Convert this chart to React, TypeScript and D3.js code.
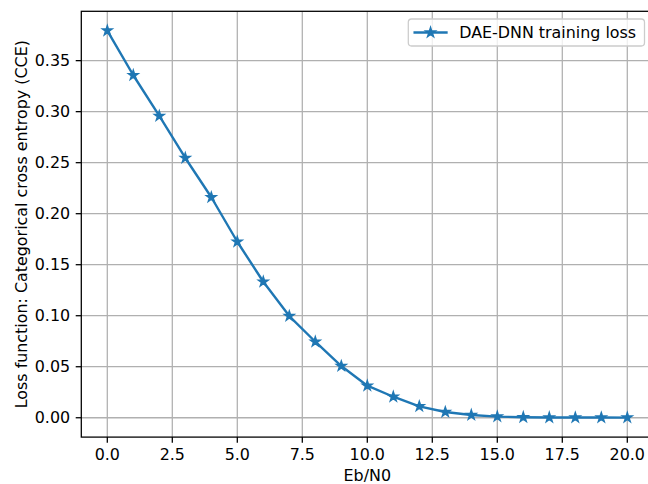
import React from "react";
import * as d3 from "d3";

const ebN0 = [0, 1, 2, 3, 4, 5, 6, 7, 8, 9, 10, 11, 12, 13, 14, 15, 16, 17, 18, 19, 20];
const trainingLoss = [
  0.3794, 0.3357, 0.2958, 0.2546, 0.2161, 0.1725, 0.1333, 0.0997, 0.0745, 0.0507,
  0.0314, 0.0206, 0.0112, 0.0056, 0.0027, 0.0011, 0.0005, 0.0003, 0.0002, 0.0002, 0.0001,
];
const xTicks = [0, 2.5, 5, 7.5, 10, 12.5, 15, 17.5, 20];
const yTicks = [0, 0.05, 0.1, 0.15, 0.2, 0.25, 0.3, 0.35];
const seriesLabel = "DAE-DNN training loss";
const xLabel = "Eb/N0";
const yLabel = "Loss function: Categorical cross entropy (CCE)";

const W = 648;
const H = 484;
const left = 81.3;
const right = 653.3;
const top = 11.3;
const bottom = 437.1;
const color = "#1f77b4";
const font = "'DejaVu Sans', sans-serif";
const fs = 15.9;
const pt = 1.597;

export default function App() {
  const x = d3.scaleLinear().domain([-1, 21]).range([left, right]);
  const yMax = d3.max(trainingLoss)!;
  const pad = yMax * 0.05;
  const y = d3.scaleLinear().domain([-pad, yMax + pad]).range([bottom, top]);
  const line = d3
    .line<number>()
    .x((_, i) => x(ebN0[i]))
    .y((d) => y(d));
  const star = d3.symbol(d3.symbolStar, 25.9)()!;
  const tick = 3.5 * pt;
  const lw = 1.5 * pt;
  const thin = 0.8 * pt;

  // legend
  const legLeft = 408.3;
  const legRight = 644.5;
  const legTop = 19;
  const legBottom = 46;
  const legY = (legTop + legBottom) / 2;
  const handleX0 = legLeft + 0.4 * fs;
  const handleX1 = handleX0 + 2 * fs;

  return (
    <svg
      width={W}
      height={H}
      style={{ position: "absolute", left: 0, top: 0, background: "#fff", fontFamily: font }}
    >
      <rect x={0} y={0} width={W} height={H} fill="#fff" />
      {/* grid */}
      {xTicks.map((t) => (
        <line key={"gx" + t} x1={x(t)} x2={x(t)} y1={top} y2={bottom} stroke="#b0b0b0" strokeWidth={thin} />
      ))}
      {yTicks.map((t) => (
        <line key={"gy" + t} x1={left} x2={right} y1={y(t)} y2={y(t)} stroke="#b0b0b0" strokeWidth={thin} />
      ))}
      {/* series */}
      <path d={line(trainingLoss)!} fill="none" stroke={color} strokeWidth={lw} strokeLinejoin="round" strokeLinecap="square" />
      {trainingLoss.map((v, i) => (
        <path
          key={"m" + i}
          d={star}
          transform={`translate(${x(ebN0[i])},${y(v)})`}
          fill={color}
          stroke={color}
          strokeWidth={pt}
        />
      ))}
      {/* spines */}
      <rect x={left} y={top} width={right - left} height={bottom - top} fill="none" stroke="#000" strokeWidth={thin} />
      {/* x ticks */}
      {xTicks.map((t) => (
        <g key={"xt" + t}>
          <line x1={x(t)} x2={x(t)} y1={bottom} y2={bottom + tick} stroke="#000" strokeWidth={thin} />
          <text x={x(t)} y={bottom + 2 * tick + 11.8} textAnchor="middle" fontSize={fs} fill="#000">
            {d3.format(".1f")(t)}
          </text>
        </g>
      ))}
      {/* y ticks */}
      {yTicks.map((t) => (
        <g key={"yt" + t}>
          <line x1={left - tick} x2={left} y1={y(t)} y2={y(t)} stroke="#000" strokeWidth={thin} />
          <text x={left - 2 * tick} y={y(t)} dy="0.36em" textAnchor="end" fontSize={fs} fill="#000">
            {d3.format(".2f")(t)}
          </text>
        </g>
      ))}
      {/* axis labels */}
      <text x={(left + right) / 2} y={480.5} textAnchor="middle" fontSize={fs} fill="#000">
        {xLabel}
      </text>
      <text
        transform={`translate(27.2,${(top + bottom) / 2}) rotate(-90)`}
        textAnchor="middle"
        fontSize={fs}
        fill="#000"
      >
        {yLabel}
      </text>
      {/* legend */}
      <rect
        x={legLeft}
        y={legTop}
        width={legRight - legLeft}
        height={legBottom - legTop}
        rx={0.2 * fs}
        fill="#fff"
        fillOpacity={0.8}
        stroke="#cccccc"
        strokeWidth={thin}
      />
      <line x1={handleX0} x2={handleX1} y1={legY} y2={legY} stroke={color} strokeWidth={lw} strokeLinecap="square" />
      <path d={star} transform={`translate(${(handleX0 + handleX1) / 2},${legY})`} fill={color} stroke={color} strokeWidth={pt} />
      <text x={handleX1 + 0.8 * fs} y={legY} dy="0.36em" fontSize={fs} fill="#000">
        {seriesLabel}
      </text>
    </svg>
  );
}
